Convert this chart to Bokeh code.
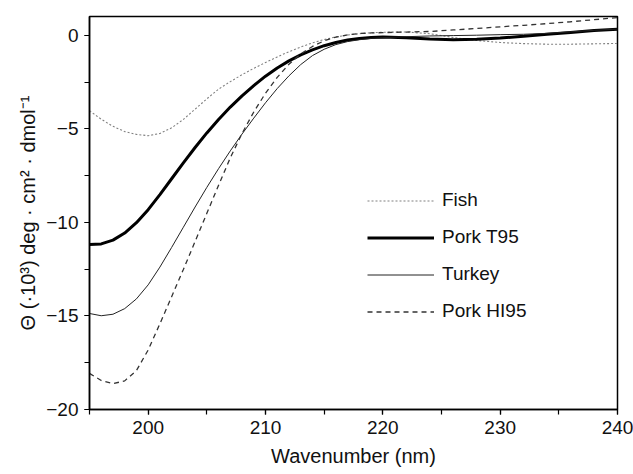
from bokeh.plotting import figure
from bokeh.models import Range1d, SingleIntervalTicker, Legend, LegendItem
from bokeh.embed import file_html
from bokeh.resources import INLINE

# ---- data ----
wl = [195, 196, 197, 198, 199, 200, 201, 202, 203, 204, 205, 206, 207, 208, 209,
      210, 211, 212, 213, 214, 215, 216, 217, 218, 219, 220, 222, 224, 226, 228,
      230, 232, 234, 236, 238, 240]

fish = [-4.04, -4.49, -4.87, -5.15, -5.3, -5.37, -5.25, -4.95, -4.5, -3.95, -3.4, -2.88,
        -2.48, -2.11, -1.77, -1.46, -1.16, -0.88, -0.63, -0.41, -0.23, -0.09, 0.01, 0.08,
        0.13, 0.16, 0.17, 0.08, -0.12, -0.28, -0.39, -0.45, -0.48, -0.48, -0.46, -0.44]

pork_t95 = [-11.18, -11.15, -10.95, -10.57, -10.02, -9.32, -8.52, -7.67, -6.82, -6.0,
            -5.22, -4.5, -3.84, -3.24, -2.69, -2.19, -1.75, -1.37, -1.05, -0.78, -0.56,
            -0.39, -0.26, -0.17, -0.12, -0.1, -0.13, -0.2, -0.24, -0.22, -0.15, -0.06,
            0.05, 0.15, 0.25, 0.32]

turkey = [-14.87, -14.99, -14.91, -14.61, -14.09, -13.34, -12.39, -11.34, -10.26, -9.18,
          -8.13, -7.13, -6.18, -5.28, -4.43, -3.61, -2.85, -2.17, -1.57, -1.09, -0.75,
          -0.5, -0.34, -0.24, -0.17, -0.13, -0.08, -0.04, -0.02, 0.0, 0.03, 0.05, 0.1,
          0.18, 0.26, 0.33]

pork_hi95 = [-18.07, -18.45, -18.62, -18.47, -17.92, -16.82, -15.42, -13.97, -12.52,
             -11.02, -9.52, -8.02, -6.55, -5.25, -4.1, -3.1, -2.25, -1.55, -1.0, -0.6,
             -0.3, -0.1, 0.02, 0.09, 0.12, 0.14, 0.17, 0.2, 0.28, 0.36, 0.45, 0.53, 0.62,
             0.72, 0.83, 0.94]

series_names = ["Fish", "Pork T95", "Turkey", "Pork HI95"]
y_ticks = [-20, -15, -10, -5, 0]
y_tick_labels = ["\u221220", "\u221215", "\u221210", "\u22125", "0"]

FONT = "Liberation Sans"

p = figure(width=633, height=474, output_backend="svg", toolbar_location=None,
           x_range=Range1d(195, 240), y_range=Range1d(-20, 1),
           min_border_left=89, min_border_right=16, min_border_top=16,
           min_border_bottom=65)

p.xgrid.visible = False
p.ygrid.visible = False
p.outline_line_color = "black"
p.outline_line_width = 1.5
p.outline_line_alpha = 1.0

r_fish = p.line(wl, fish, line_color="#808080", line_width=1.1, line_dash="2 2")
r_t95 = p.line(wl, pork_t95, line_color="black", line_width=3)
r_turkey = p.line(wl, turkey, line_color="#222222", line_width=1)
r_hi95 = p.line(wl, pork_hi95, line_color="#333333", line_width=1.3, line_dash="5 4")

legend = Legend(items=[LegendItem(label=series_names[0], renderers=[r_fish]),
                       LegendItem(label=series_names[1], renderers=[r_t95]),
                       LegendItem(label=series_names[2], renderers=[r_turkey]),
                       LegendItem(label=series_names[3], renderers=[r_hi95])],
                location=(278, 87), padding=0, margin=0, spacing=15,
                glyph_width=67, glyph_height=21, label_height=21,
                label_standoff=8, border_line_color=None,
                background_fill_alpha=0, label_text_font=FONT,
                label_text_font_size="19px", label_text_color="#111111")
p.add_layout(legend, "center")

xa = p.xaxis[0]
xa.ticker = SingleIntervalTicker(interval=10, num_minor_ticks=2)
xa.axis_label = "Wavenumber (nm)"
ya = p.yaxis[0]
ya.ticker = SingleIntervalTicker(interval=5, num_minor_ticks=2)
ya.major_label_overrides = {t: s for t, s in zip(y_ticks, y_tick_labels)}
ya.axis_label = "\u0398 (\u00b710\u00b3) deg \u00b7 cm\u00b2 \u00b7 dmol\u207b\u00b9"

for ax in (xa, ya):
    ax.axis_line_width = 1.5
    ax.axis_line_color = "black"
    ax.major_tick_in = 0
    ax.major_tick_out = 5
    ax.minor_tick_in = 0
    ax.minor_tick_out = 5
    ax.major_tick_line_width = 1.2
    ax.minor_tick_line_width = 1.2
    ax.major_label_text_font = FONT
    ax.major_label_text_font_size = "19px"
    ax.major_label_text_color = "#111111"
    ax.axis_label_text_font = FONT
    ax.axis_label_text_font_size = "20px"
    ax.axis_label_text_font_style = "normal"
    ax.axis_label_text_color = "#111111"
ya.major_label_standoff = 6
ya.axis_label_standoff = 4
xa.major_label_standoff = 6
xa.axis_label_standoff = 8

open("out.html", "w").write(file_html(p, INLINE))
